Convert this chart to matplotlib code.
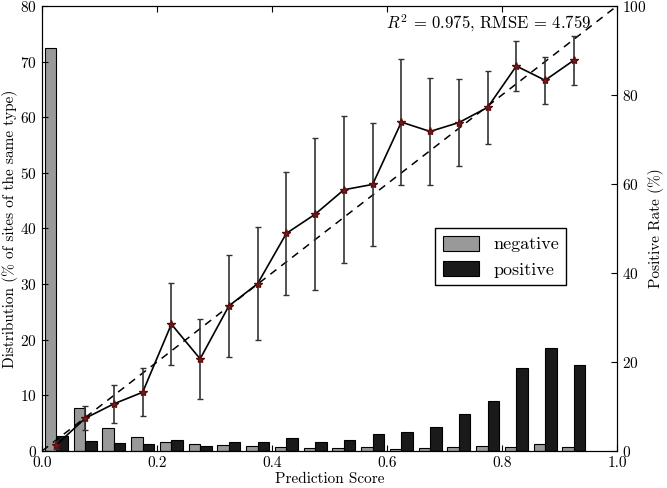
import numpy as np
import matplotlib
matplotlib.use('Agg')
import matplotlib.pyplot as plt

plt.rcParams['font.family'] = 'serif'
plt.rcParams['font.serif'] = ['cmr10', 'DejaVu Serif']
plt.rcParams['mathtext.fontset'] = 'cm'
plt.rcParams['axes.formatter.use_mathtext'] = True

# bin centres of the prediction score
centers = np.arange(0.025, 0.95, 0.05)

# distribution (% of sites of the same type)
neg_dist = [72.5, 7.8, 4.1, 2.6, 1.6, 1.26, 1.0, 0.9, 0.77, 0.48,
            0.48, 0.72, 0.42, 0.6, 0.77, 0.9, 0.77, 1.26, 0.66]
pos_dist = [2.7, 1.8, 1.4, 1.2, 1.9, 0.95, 1.56, 1.67, 2.3, 1.56,
            1.9, 3.0, 3.36, 4.4, 6.6, 8.9, 14.9, 18.46, 15.4]

# positive rate (%) with error bars
pos_rate = [1.35, 7.35, 10.6, 13.2, 28.5, 20.7, 32.6, 37.6, 48.9, 53.2,
            58.7, 59.9, 73.9, 71.8, 73.8, 77.2, 86.5, 83.3, 87.8]
rate_err = [0.8, 2.7, 4.2, 5.35, 9.2, 9.05, 11.4, 12.65, 13.75, 17.1,
            16.55, 13.85, 14.15, 11.95, 9.75, 8.25, 5.7, 5.25, 5.45]

r2 = 0.975
rmse = 4.759

fig = plt.figure(figsize=(6.67, 4.88), dpi=100)
ax = fig.add_axes([0.063, 0.0758, 0.862, 0.912])
w = 0.02
ax.bar(centers - w, neg_dist, width=w, align='edge', color='#999999',
       edgecolor='black', linewidth=0.8, label='negative')
ax.bar(centers, pos_dist, width=w, align='edge', color='#1a1a1a',
       edgecolor='black', linewidth=0.8, label='positive')
ax.set_xlim(0, 1)
ax.set_ylim(0, 80)
ax.set_xticks(np.arange(0, 1.01, 0.2))
ax.set_xticklabels(['%.1f' % v for v in np.arange(0, 1.01, 0.2)])
ax.set_yticks(range(0, 81, 10))
ax.tick_params(direction='in', length=4, labelsize=11, top=True)
ax.set_xlabel('Prediction Score', fontsize=11, labelpad=2)
ax.set_ylabel('Distribution (% of sites of the same type)', fontsize=11, labelpad=2)
ax.legend(loc='upper left', bbox_to_anchor=(0.684, 0.5), fontsize=13,
          fancybox=False, edgecolor='black', framealpha=1, borderaxespad=0,
          handlelength=2.0, handleheight=0.9, borderpad=0.4)

ax2 = ax.twinx()
ax2.plot([0, 1], [0, 100], 'k--', linewidth=1.1, dashes=(5, 4))
ax2.errorbar(centers, pos_rate, yerr=rate_err, color='black', ecolor='#333333',
             elinewidth=1.2, capsize=2.5, capthick=1.0, linewidth=1.2,
             marker='*', markersize=6, markerfacecolor='#7a1a1a',
             markeredgecolor='#5a1010')
ax2.set_ylim(0, 100)
ax2.set_yticks(range(0, 101, 20))
ax2.tick_params(direction='in', length=4, labelsize=11)
ax2.set_ylabel('Positive Rate (%)', fontsize=11, labelpad=1)
ax2.text(0.955, 95.0, '$R^2$ = %.3f, RMSE = %.3f' % (r2, rmse),
         ha='right', va='baseline', fontsize=12)

fig.savefig('out.png', dpi=100)
